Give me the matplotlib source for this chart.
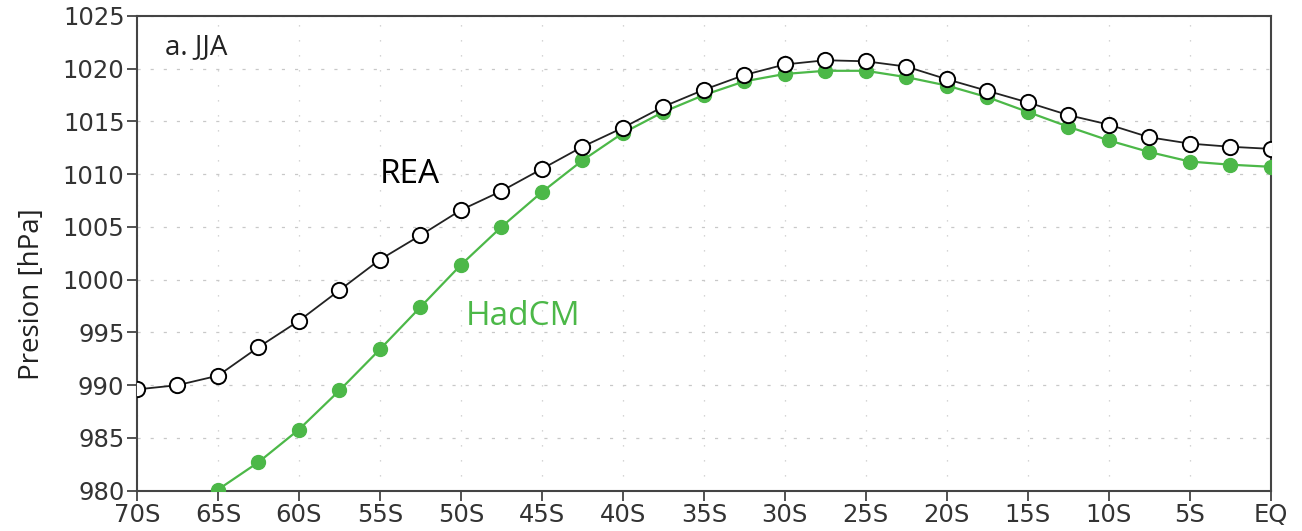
import numpy as np
import matplotlib
matplotlib.use('Agg')
import matplotlib.pyplot as plt

# latitudes, 70S -> EQ every 2.5 degrees (negative = south)
lat = np.arange(-70, 0.1, 2.5)

# sea level pressure [hPa]
rea = [989.6, 990.0, 990.9, 993.6, 996.1, 999.0, 1001.9, 1004.2, 1006.6, 1008.4,
       1010.5, 1012.6, 1014.4, 1016.4, 1018.0, 1019.4, 1020.4, 1020.8, 1020.7, 1020.2,
       1019.0, 1017.9, 1016.8, 1015.6, 1014.7, 1013.5, 1012.9, 1012.6, 1012.4]
hadcm = [977.0, 978.5, 980.1, 982.7, 985.8, 989.5, 993.4, 997.4, 1001.4, 1005.0,
         1008.3, 1011.3, 1013.9, 1015.9, 1017.5, 1018.8, 1019.5, 1019.8, 1019.8, 1019.2,
         1018.4, 1017.3, 1015.9, 1014.5, 1013.2, 1012.1, 1011.2, 1010.9, 1010.7]

xticks = np.arange(-70, 1, 5)
xticklabels = ['70S', '65S', '60S', '55S', '50S', '45S', '40S', '35S',
               '30S', '25S', '20S', '15S', '10S', '5S', 'EQ']
yticks = np.arange(980, 1026, 5)

green = '#4cb848'
txt = '#222222'

fig = plt.figure(figsize=(13.02, 5.31), dpi=100)
ax = fig.add_axes([0.1052, 0.0759, 0.8708, 0.8941])

ax.plot(lat, rea, '-', color='#222222', lw=1.3, marker='o', ms=11,
        mfc='white', mec='black', mew=1.4, zorder=4)
ax.plot(lat, hadcm, '-', color=green, lw=1.6, marker='o', ms=10,
        mfc=green, mec=green, zorder=3)

ax.set_xlim(-70, 0)
ax.set_ylim(980, 1025)
ax.set_xticks(xticks)
ax.set_xticklabels(xticklabels)
ax.set_yticks(yticks)

ax.grid(True, color='#c8c8c8', lw=0.9)
for gl in ax.get_xgridlines():
    gl.set_dashes([1, 11])
for gl in ax.get_ygridlines():
    gl.set_dashes([2.5, 8])
ax.set_axisbelow(True)

for s in ax.spines.values():
    s.set_color('#444444')
    s.set_linewidth(1.5)
ax.tick_params(direction='out', length=7, width=1.3, color='#444444',
               labelsize=17.5, labelcolor='#333333', pad=2)
for lab in ax.get_xticklabels() + ax.get_yticklabels():
    lab.set_family('DejaVu Sans')

ax.set_ylabel('Presion [hPa]', fontsize=20, color=txt, family='Open Sans')
ax.yaxis.set_label_coords(-0.080, 0.414)

ax.text(0.0245, 0.935, 'a. JJA', transform=ax.transAxes, fontsize=20,
        color=txt, family='Open Sans', va='center', ha='left')
ax.text(0.214, 0.667, 'REA', transform=ax.transAxes, fontsize=24,
        color='black', family='Open Sans', va='center', ha='left')
ax.text(0.290, 0.366, 'HadCM', transform=ax.transAxes, fontsize=24,
        color=green, family='Open Sans', va='center', ha='left')

fig.savefig('out.png', dpi=100)
